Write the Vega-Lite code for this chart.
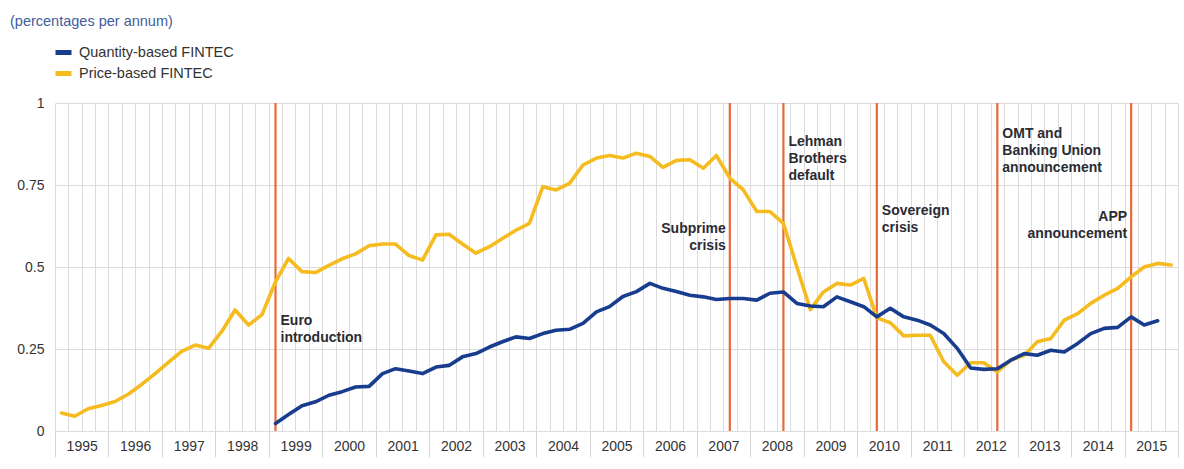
{
  "$schema": "https://vega.github.io/schema/vega-lite/v6.json",
  "autosize": "none",
  "width": 1123,
  "height": 328,
  "padding": {"left": 55, "top": 103, "right": 6, "bottom": 38},
  "background": "white",
  "title": {
    "text": "(percentages per annum)",
    "anchor": "start",
    "frame": "group",
    "fontSize": 14.5,
    "fontWeight": "normal",
    "font": "Liberation Sans",
    "color": "#3f5d9b",
    "dx": -45,
    "offset": 13
  },
  "config": {
    "view": {"stroke": null},
    "font": "Liberation Sans"
  },
  "datasets": {
    "fintec": [
      {"date": "1995-02-15", "Price-based FINTEC": 0.055},
      {"date": "1995-05-15", "Price-based FINTEC": 0.045},
      {"date": "1995-08-15", "Price-based FINTEC": 0.068},
      {"date": "1995-11-15", "Price-based FINTEC": 0.078},
      {"date": "1996-02-15", "Price-based FINTEC": 0.09},
      {"date": "1996-05-15", "Price-based FINTEC": 0.112},
      {"date": "1996-08-15", "Price-based FINTEC": 0.142},
      {"date": "1996-11-15", "Price-based FINTEC": 0.175},
      {"date": "1997-02-15", "Price-based FINTEC": 0.21},
      {"date": "1997-05-15", "Price-based FINTEC": 0.243},
      {"date": "1997-08-15", "Price-based FINTEC": 0.262},
      {"date": "1997-11-15", "Price-based FINTEC": 0.252},
      {"date": "1998-02-15", "Price-based FINTEC": 0.305},
      {"date": "1998-05-15", "Price-based FINTEC": 0.369},
      {"date": "1998-08-15", "Price-based FINTEC": 0.323},
      {"date": "1998-11-15", "Price-based FINTEC": 0.355},
      {"date": "1999-02-15", "Price-based FINTEC": 0.455, "Quantity-based FINTEC": 0.023},
      {"date": "1999-05-15", "Price-based FINTEC": 0.526, "Quantity-based FINTEC": 0.05},
      {"date": "1999-08-15", "Price-based FINTEC": 0.486, "Quantity-based FINTEC": 0.077},
      {"date": "1999-11-15", "Price-based FINTEC": 0.483, "Quantity-based FINTEC": 0.089},
      {"date": "2000-02-15", "Price-based FINTEC": 0.505, "Quantity-based FINTEC": 0.109},
      {"date": "2000-05-15", "Price-based FINTEC": 0.525, "Quantity-based FINTEC": 0.12},
      {"date": "2000-08-15", "Price-based FINTEC": 0.54, "Quantity-based FINTEC": 0.134},
      {"date": "2000-11-15", "Price-based FINTEC": 0.565, "Quantity-based FINTEC": 0.136},
      {"date": "2001-02-15", "Price-based FINTEC": 0.57, "Quantity-based FINTEC": 0.175},
      {"date": "2001-05-15", "Price-based FINTEC": 0.57, "Quantity-based FINTEC": 0.19},
      {"date": "2001-08-15", "Price-based FINTEC": 0.535, "Quantity-based FINTEC": 0.183},
      {"date": "2001-11-15", "Price-based FINTEC": 0.521, "Quantity-based FINTEC": 0.175},
      {"date": "2002-02-15", "Price-based FINTEC": 0.598, "Quantity-based FINTEC": 0.195},
      {"date": "2002-05-15", "Price-based FINTEC": 0.6, "Quantity-based FINTEC": 0.2},
      {"date": "2002-08-15", "Price-based FINTEC": 0.57, "Quantity-based FINTEC": 0.226},
      {"date": "2002-11-15", "Price-based FINTEC": 0.542, "Quantity-based FINTEC": 0.236},
      {"date": "2003-02-15", "Price-based FINTEC": 0.562, "Quantity-based FINTEC": 0.256},
      {"date": "2003-05-15", "Price-based FINTEC": 0.587, "Quantity-based FINTEC": 0.272},
      {"date": "2003-08-15", "Price-based FINTEC": 0.612, "Quantity-based FINTEC": 0.287},
      {"date": "2003-11-15", "Price-based FINTEC": 0.633, "Quantity-based FINTEC": 0.282},
      {"date": "2004-02-15", "Price-based FINTEC": 0.745, "Quantity-based FINTEC": 0.297},
      {"date": "2004-05-15", "Price-based FINTEC": 0.735, "Quantity-based FINTEC": 0.307},
      {"date": "2004-08-15", "Price-based FINTEC": 0.755, "Quantity-based FINTEC": 0.31},
      {"date": "2004-11-15", "Price-based FINTEC": 0.811, "Quantity-based FINTEC": 0.328},
      {"date": "2005-02-15", "Price-based FINTEC": 0.832, "Quantity-based FINTEC": 0.363},
      {"date": "2005-05-15", "Price-based FINTEC": 0.84, "Quantity-based FINTEC": 0.379},
      {"date": "2005-08-15", "Price-based FINTEC": 0.832, "Quantity-based FINTEC": 0.41},
      {"date": "2005-11-15", "Price-based FINTEC": 0.847, "Quantity-based FINTEC": 0.425},
      {"date": "2006-02-15", "Price-based FINTEC": 0.837, "Quantity-based FINTEC": 0.45},
      {"date": "2006-05-15", "Price-based FINTEC": 0.804, "Quantity-based FINTEC": 0.435},
      {"date": "2006-08-15", "Price-based FINTEC": 0.825, "Quantity-based FINTEC": 0.425},
      {"date": "2006-11-15", "Price-based FINTEC": 0.827, "Quantity-based FINTEC": 0.414},
      {"date": "2007-02-15", "Price-based FINTEC": 0.801, "Quantity-based FINTEC": 0.409},
      {"date": "2007-05-15", "Price-based FINTEC": 0.84, "Quantity-based FINTEC": 0.401},
      {"date": "2007-08-15", "Price-based FINTEC": 0.771, "Quantity-based FINTEC": 0.404},
      {"date": "2007-11-15", "Price-based FINTEC": 0.735, "Quantity-based FINTEC": 0.404},
      {"date": "2008-02-15", "Price-based FINTEC": 0.669, "Quantity-based FINTEC": 0.399},
      {"date": "2008-05-15", "Price-based FINTEC": 0.669, "Quantity-based FINTEC": 0.42},
      {"date": "2008-08-15", "Price-based FINTEC": 0.633, "Quantity-based FINTEC": 0.424},
      {"date": "2008-11-15", "Price-based FINTEC": 0.5, "Quantity-based FINTEC": 0.389},
      {"date": "2009-02-15", "Price-based FINTEC": 0.37, "Quantity-based FINTEC": 0.381},
      {"date": "2009-05-15", "Price-based FINTEC": 0.424, "Quantity-based FINTEC": 0.379},
      {"date": "2009-08-15", "Price-based FINTEC": 0.45, "Quantity-based FINTEC": 0.409},
      {"date": "2009-11-15", "Price-based FINTEC": 0.445, "Quantity-based FINTEC": 0.394},
      {"date": "2010-02-15", "Price-based FINTEC": 0.465, "Quantity-based FINTEC": 0.379},
      {"date": "2010-05-15", "Price-based FINTEC": 0.345, "Quantity-based FINTEC": 0.348},
      {"date": "2010-08-15", "Price-based FINTEC": 0.33, "Quantity-based FINTEC": 0.374},
      {"date": "2010-11-15", "Price-based FINTEC": 0.29, "Quantity-based FINTEC": 0.348},
      {"date": "2011-02-15", "Price-based FINTEC": 0.292, "Quantity-based FINTEC": 0.338},
      {"date": "2011-05-15", "Price-based FINTEC": 0.292, "Quantity-based FINTEC": 0.323},
      {"date": "2011-08-15", "Price-based FINTEC": 0.211, "Quantity-based FINTEC": 0.297},
      {"date": "2011-11-15", "Price-based FINTEC": 0.17, "Quantity-based FINTEC": 0.252},
      {"date": "2012-02-15", "Price-based FINTEC": 0.208, "Quantity-based FINTEC": 0.192},
      {"date": "2012-05-15", "Price-based FINTEC": 0.208, "Quantity-based FINTEC": 0.188},
      {"date": "2012-08-15", "Price-based FINTEC": 0.18, "Quantity-based FINTEC": 0.19},
      {"date": "2012-11-15", "Price-based FINTEC": 0.216, "Quantity-based FINTEC": 0.216},
      {"date": "2013-02-15", "Price-based FINTEC": 0.231, "Quantity-based FINTEC": 0.236},
      {"date": "2013-05-15", "Price-based FINTEC": 0.272, "Quantity-based FINTEC": 0.231},
      {"date": "2013-08-15", "Price-based FINTEC": 0.282, "Quantity-based FINTEC": 0.246},
      {"date": "2013-11-15", "Price-based FINTEC": 0.338, "Quantity-based FINTEC": 0.241},
      {"date": "2014-02-15", "Price-based FINTEC": 0.358, "Quantity-based FINTEC": 0.267},
      {"date": "2014-05-15", "Price-based FINTEC": 0.389, "Quantity-based FINTEC": 0.297},
      {"date": "2014-08-15", "Price-based FINTEC": 0.414, "Quantity-based FINTEC": 0.313},
      {"date": "2014-11-15", "Price-based FINTEC": 0.435, "Quantity-based FINTEC": 0.316},
      {"date": "2015-02-15", "Price-based FINTEC": 0.47, "Quantity-based FINTEC": 0.348},
      {"date": "2015-05-15", "Price-based FINTEC": 0.5, "Quantity-based FINTEC": 0.323},
      {"date": "2015-08-15", "Price-based FINTEC": 0.511, "Quantity-based FINTEC": 0.336},
      {"date": "2015-11-15", "Price-based FINTEC": 0.506}
    ],
    "events": [
      {"date": "1999-02-15", "event": "Euro\nintroduction", "label_y": 0.356},
      {"date": "2007-08-15", "event": "Subprime\ncrisis", "label_y": 0.636},
      {"date": "2008-08-15", "event": "Lehman\nBrothers\ndefault", "label_y": 0.901},
      {"date": "2010-05-15", "event": "Sovereign\ncrisis", "label_y": 0.692},
      {"date": "2012-08-15", "event": "OMT and\nBanking Union\nannouncement", "label_y": 0.928},
      {"date": "2015-02-15", "event": "APP\nannouncement", "label_y": 0.674}
    ]
  },
  "encoding": {
    "x": {
      "field": "date",
      "type": "temporal",
      "scale": {
        "type": "utc",
        "domain": [
          {"year": 1995, "month": 1, "date": 1, "utc": true},
          {"year": 2016, "month": 1, "date": 1, "utc": true}
        ]
      },
      "axis": {
        "title": null,
        "tickCount": {"interval": "month", "step": 3},
        "grid": true,
        "gridColor": "#dcdcdc",
        "gridWidth": 1,
        "domain": false,
        "ticks": true,
        "tickSize": 26,
        "tickWidth": 1,
        "tickColor": {
          "condition": {"test": "utcmonth(datum.value) == 0", "value": "#d6d6d6"},
          "value": "transparent"
        },
        "labelExpr": "utcmonth(datum.value) == 0 && utcyear(datum.value) < 2016 ? utcFormat(datum.value, '%Y') : ''",
        "labelOffset": 26.7,
        "labelPadding": -18,
        "labelFontSize": 14,
        "labelColor": "#333333",
        "labelFlush": false,
        "labelOverlap": false,
        "labelBound": false,
        "labelAlign": "center",
        "labelBaseline": "top"
      }
    },
    "y": {
      "type": "quantitative",
      "scale": {"domain": [0, 1], "nice": false, "zero": true},
      "axis": {
        "title": null,
        "values": [0, 0.25, 0.5, 0.75, 1],
        "grid": true,
        "gridColor": "#dcdcdc",
        "domain": false,
        "ticks": false,
        "labelPadding": 11,
        "labelFontSize": 14,
        "labelColor": "#333333",
        "labelExpr": "datum.value + ''"
      }
    }
  },
  "layer": [
    {
      "data": {"name": "events"},
      "mark": {"type": "rule", "color": "#e8693a", "strokeWidth": 2.2},
      "encoding": {"y": null}
    },
    {
      "data": {"name": "fintec"},
      "transform": [
        {"fold": ["Quantity-based FINTEC", "Price-based FINTEC"], "as": ["series", "value"]},
        {"filter": "isValid(datum.value)"}
      ],
      "mark": {"type": "line", "strokeWidth": 3.6, "strokeJoin": "round", "strokeCap": "round"},
      "encoding": {
        "y": {"field": "value"},
        "color": {
          "field": "series",
          "type": "nominal",
          "scale": {
            "domain": ["Quantity-based FINTEC", "Price-based FINTEC"],
            "range": ["#183c8e", "#f5bb1f"]
          },
          "legend": {
            "orient": "none",
            "legendX": -2,
            "legendY": -61,
            "title": null,
            "direction": "vertical",
            "symbolType": "stroke",
            "symbolStrokeWidth": 5,
            "symbolSize": 256,
            "labelFontSize": 14.5,
            "labelColor": "#333333",
            "labelOffset": 5,
            "labelLimit": 0,
            "rowPadding": -1,
            "padding": 0
          }
        }
      }
    },
    {
      "data": {"name": "events"},
      "transform": [
        {"filter": {"field": "event", "oneOf": ["Euro\nintroduction", "Lehman\nBrothers\ndefault", "Sovereign\ncrisis", "OMT and\nBanking Union\nannouncement"]}}
      ],
      "mark": {"type": "text", "align": "left", "baseline": "top", "dx": 5, "fontSize": 14, "fontWeight": "bold", "lineHeight": 17, "lineBreak": "\n", "color": "#2b2b33"},
      "encoding": {
        "y": {"field": "label_y"},
        "text": {"field": "event"}
      }
    },
    {
      "data": {"name": "events"},
      "transform": [
        {"filter": {"field": "event", "oneOf": ["Subprime\ncrisis", "APP\nannouncement"]}}
      ],
      "mark": {"type": "text", "align": "right", "baseline": "top", "dx": -4, "fontSize": 14, "fontWeight": "bold", "lineHeight": 17, "lineBreak": "\n", "color": "#2b2b33"},
      "encoding": {
        "y": {"field": "label_y"},
        "text": {"field": "event"}
      }
    }
  ]
}
